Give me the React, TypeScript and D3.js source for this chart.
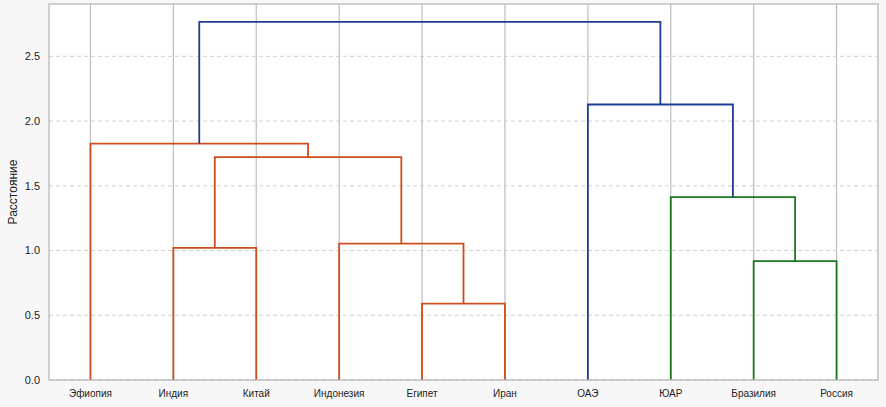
import React, { useEffect, useRef } from 'react';
import * as d3 from 'd3';

// leaf order as drawn, left to right
const leaves = ['Эфиопия', 'Индия', 'Китай', 'Индонезия', 'Египет', 'Иран', 'ОАЭ', 'ЮАР', 'Бразилия', 'Россия'];

// linkage rows: [left id, right id, distance]; ids >= leaves.length are earlier merges
const merges: [number, number, number][] = [
  [4, 5, 0.59],
  [1, 2, 1.02],
  [8, 9, 0.918],
  [3, 10, 1.053],
  [7, 12, 1.413],
  [11, 13, 1.722],
  [0, 15, 1.826],
  [6, 14, 2.128],
  [16, 17, 2.766],
];

const linkColors = ['#cc4e1c', '#cc4e1c', '#1b7822', '#cc4e1c', '#1b7822', '#cc4e1c', '#cc4e1c', '#1f3d94', '#1f3d94'];

const yTicks = [0, 0.5, 1.0, 1.5, 2.0, 2.5];

const width = 886;
const height = 407;

const Dendrogram: React.FC = () => {
  const svgRef = useRef<SVGSVGElement>(null);

  useEffect(() => {
    if (!svgRef.current) return;
    const svg = d3.select(svgRef.current);
    svg.selectAll('*').remove();

    const margin = { top: 4, right: 8, bottom: 27, left: 49 };
    const innerWidth = width - margin.left - margin.right;
    const innerHeight = height - margin.top - margin.bottom;

    svg.append('rect').attr('width', width).attr('height', height).attr('fill', '#f7f7f7');

    const g = svg.append('g').attr('transform', `translate(${margin.left},${margin.top})`);

    const maxH = d3.max(merges, d => d[2]) || 1;
    const xScale = d3.scaleLinear().domain([0, leaves.length * 10]).range([0, innerWidth]);
    const yScale = d3.scaleLinear().domain([0, maxH * 1.05]).range([innerHeight, 0]);

    g.append('rect')
      .attr('width', innerWidth)
      .attr('height', innerHeight)
      .attr('fill', '#ffffff');

    // horizontal dashed grid
    g.append('g')
      .selectAll('line')
      .data(yTicks)
      .join('line')
      .attr('x1', 0)
      .attr('x2', innerWidth)
      .attr('y1', d => yScale(d))
      .attr('y2', d => yScale(d))
      .attr('stroke', '#d0d0d0')
      .attr('stroke-width', 1)
      .attr('stroke-dasharray', '4,3');

    // vertical grid at leaves
    g.append('g')
      .selectAll('line')
      .data(leaves)
      .join('line')
      .attr('x1', (_, i) => xScale(i * 10 + 5))
      .attr('x2', (_, i) => xScale(i * 10 + 5))
      .attr('y1', 0)
      .attr('y2', innerHeight)
      .attr('stroke', '#bdbdbd')
      .attr('stroke-width', 1.2);

    // node positions
    const pos: { x: number; h: number }[] = leaves.map((_, i) => ({ x: i * 10 + 5, h: 0 }));
    merges.forEach(([a, b, h]) => {
      pos.push({ x: (pos[a].x + pos[b].x) / 2, h });
    });

    const links = merges.map(([a, b, h], i) => ({
      pts: [
        [pos[a].x, pos[a].h],
        [pos[a].x, h],
        [pos[b].x, h],
        [pos[b].x, pos[b].h],
      ] as [number, number][],
      color: linkColors[i],
    }));

    const line = d3.line<[number, number]>()
      .x(d => xScale(d[0]))
      .y(d => yScale(d[1]));

    g.append('g')
      .selectAll('path')
      .data(links)
      .join('path')
      .attr('fill', 'none')
      .attr('stroke', d => d.color)
      .attr('stroke-width', 1.8)
      .attr('d', d => line(d.pts));

    // frame
    g.append('rect')
      .attr('width', innerWidth)
      .attr('height', innerHeight)
      .attr('fill', 'none')
      .attr('stroke', '#b3b3b3')
      .attr('stroke-width', 1.2);

    // y axis labels
    g.append('g')
      .selectAll('text')
      .data(yTicks)
      .join('text')
      .attr('x', -9)
      .attr('y', d => yScale(d))
      .attr('dy', '0.35em')
      .attr('text-anchor', 'end')
      .attr('font-family', 'Liberation Sans, Arial, sans-serif')
      .attr('font-size', '11px')
      .attr('fill', '#222')
      .text(d => d3.format('.1f')(d));

    // x axis labels
    g.append('g')
      .selectAll('text')
      .data(leaves)
      .join('text')
      .attr('x', (_, i) => xScale(i * 10 + 5))
      .attr('y', innerHeight + 17)
      .attr('text-anchor', 'middle')
      .attr('font-family', 'Liberation Sans, Arial, sans-serif')
      .attr('font-size', '10px')
      .attr('fill', '#222')
      .text(d => d);

    svg.append('text')
      .attr('transform', `translate(17,${margin.top + innerHeight / 2}) rotate(-90)`)
      .attr('text-anchor', 'middle')
      .attr('font-family', 'Liberation Sans, Arial, sans-serif')
      .attr('font-size', '12px')
      .attr('fill', '#222')
      .text('Расстояние');
  }, []);

  return <svg ref={svgRef} width={width} height={height} style={{ display: 'block' }} />;
};

export default function App() {
  return (
    <div style={{ position: 'absolute', left: 0, top: 0 }}>
      <Dendrogram />
    </div>
  );
}
